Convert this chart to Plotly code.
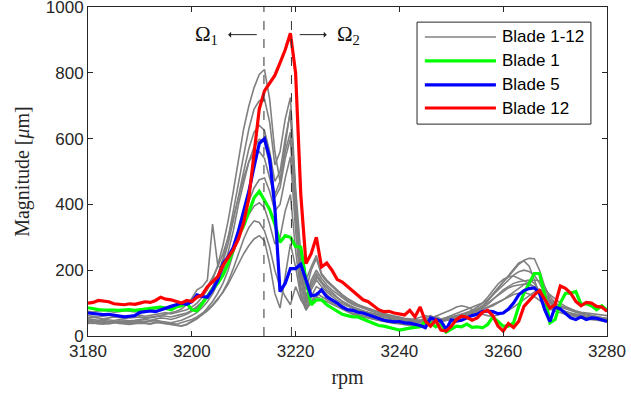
import plotly.graph_objects as go

rpm = list(range(3180, 3281))

blade12 = [100,102,108,106,104,98,96,95,98,96,
           100,104,102,108,118,112,110,105,100,108,
           105,118,125,150,165,180,215,237,262,295,
           345,420,560,690,745,768,792,830,870,920,
           800,430,220,250,300,210,222,200,172,164,
           150,138,122,110,104,92,80,74,75,70,
           68,64,78,58,88,45,30,48,18,15,
           30,50,60,57,48,55,72,78,62,30,
           15,38,26,45,90,108,125,138,110,85,
           95,152,145,130,105,92,102,100,90,88,
           75]
blade5 = [70,68,66,65,66,64,62,58,60,62,
          72,74,76,74,80,86,90,95,100,96,
          104,125,120,118,140,170,220,240,270,320,
          380,440,515,585,600,540,390,135,160,205,
          205,218,170,122,125,140,119,110,100,88,
          80,78,72,70,64,58,54,48,45,43,
          44,40,39,36,32,25,55,50,45,20,
          49,45,48,55,62,66,74,76,74,68,
          70,82,100,125,138,144,146,130,80,44,
          88,82,70,55,50,58,50,55,54,48,
          44]
blade1 = [86,82,80,79,80,79,78,79,80,78,
          79,82,84,86,88,84,80,88,92,100,
          80,76,98,122,142,160,185,220,260,305,
          335,380,420,440,412,385,340,285,305,300,
          272,270,170,95,110,110,95,86,75,66,
          62,58,58,52,45,40,32,30,25,22,
          18,22,24,26,28,45,40,28,38,12,
          22,30,28,36,26,28,25,35,58,45,
          30,30,40,90,130,160,190,190,125,40,
          50,100,130,130,135,96,98,92,80,92,
          79]

gray_blades = [
    [62,60,58,61,63,60,58,57,60,62,
     64,60,63,66,68,71,67,72,75,80,
     88,100,118,140,170,215,275,350,440,540,
     630,700,755,795,810,720,560,470,580,690,
     430,210,140,200,235,185,165,150,135,122,
     110,100,94,88,82,76,72,68,64,60,
     57,54,52,50,48,52,47,42,44,46,
     50,54,56,60,64,72,88,105,125,145,
     165,185,205,222,228,212,172,125,92,80,
     86,78,72,66,62,58,56,53,50,48,
     46],
    [48,46,44,47,45,43,46,44,42,45,
     47,50,48,52,55,53,50,55,60,66,
     75,86,100,120,148,185,235,300,380,470,
     550,630,690,715,720,650,520,560,660,725,
     450,250,170,210,245,190,170,155,140,126,
     114,104,96,90,84,78,72,66,62,58,
     55,52,48,46,45,48,52,50,46,48,
     52,58,62,66,72,80,92,108,128,148,
     165,180,200,218,230,236,235,200,150,110,
     90,80,72,66,60,56,52,50,48,46,
     44],
    [55,57,54,52,55,58,56,53,55,57,
     58,55,57,60,62,60,58,62,66,70,
     78,90,105,125,150,180,225,280,350,430,
     500,570,620,640,625,560,470,500,600,680,
     420,200,120,170,200,175,155,140,128,116,
     105,96,90,84,78,72,68,64,60,57,
     54,50,47,45,48,56,62,54,50,52,
     55,60,64,70,78,88,100,118,138,158,
     172,180,182,176,168,160,150,140,128,110,
     96,88,82,76,72,68,64,60,58,55,
     52],
    [42,44,41,40,43,45,42,40,41,43,
     45,44,46,48,45,42,40,44,48,55,
     62,72,86,104,128,160,200,255,320,400,
     470,530,575,598,590,520,430,470,560,620,
     380,190,110,160,190,165,148,132,118,106,
     96,88,82,76,70,66,62,58,55,52,
     50,47,45,44,46,50,55,60,52,48,
     50,54,58,64,70,76,84,96,110,126,
     140,150,160,165,168,170,160,135,110,92,
     84,78,72,68,64,60,58,55,52,50,
     48],
    [75,73,76,78,75,72,74,77,75,73,
     76,78,80,82,84,86,88,92,96,100,
     108,116,128,150,178,210,250,300,360,420,
     480,530,555,560,540,480,420,450,540,600,
     360,170,100,150,180,160,140,128,116,104,
     95,88,82,76,72,68,64,60,57,54,
     52,50,48,52,56,62,58,54,50,52,
     56,60,64,68,72,76,80,86,92,100,
     110,122,134,146,156,164,170,168,150,120,
     100,92,86,80,76,72,70,68,66,64,
     62],
    [40,38,41,39,37,40,42,39,38,40,
     41,39,38,42,40,36,34,32,30,34,
     42,52,66,84,105,130,160,200,250,305,
     360,410,450,475,480,440,380,400,480,545,
     320,150,90,140,170,150,134,120,108,98,
     90,84,78,72,68,64,60,56,52,50,
     48,46,44,42,44,48,54,60,66,72,
     80,88,92,88,80,72,66,62,60,64,
     70,78,88,100,112,124,134,140,138,126,
     112,100,90,82,76,70,66,62,58,56,
     54],
    [52,50,48,51,49,47,50,48,46,48,
     50,52,55,58,62,66,70,75,82,95,
     115,140,150,170,340,215,200,225,260,300,
     340,370,395,405,390,340,280,300,380,430,
     260,130,80,120,150,140,125,112,100,90,
     82,76,70,66,62,58,55,52,50,48,
     46,44,42,40,42,44,46,48,50,54,
     58,62,66,70,76,82,90,100,112,124,
     136,146,152,156,158,156,150,140,120,100,
     88,80,74,70,66,62,60,58,56,54,
     52],
    [45,43,46,44,42,45,43,41,44,46,
     44,42,45,47,44,40,38,36,40,45,
     50,58,68,80,95,112,132,158,188,220,
     250,275,295,305,290,220,130,85,180,280,
     210,120,78,105,130,120,110,100,92,84,
     76,70,65,60,56,52,48,45,42,40,
     38,36,35,34,36,38,42,46,50,56,
     62,68,74,80,86,92,100,110,125,140,
     155,170,185,195,200,196,185,160,130,105,
     90,80,74,68,64,60,57,54,52,50,
     48],
    [38,40,37,36,39,41,38,36,35,37,
     39,38,36,40,42,38,35,33,31,36,
     44,54,64,76,92,110,135,165,205,250,
     295,330,350,345,320,270,200,150,120,95,
     150,110,85,100,120,112,104,96,88,80,
     72,66,62,58,54,50,47,44,41,38,
     36,34,32,30,32,35,38,40,42,45,
     48,52,56,60,66,72,80,88,96,104,
     112,120,126,130,132,128,120,108,94,82,
     76,70,66,62,60,58,56,54,52,50,
     48],
]

omega1 = 3213.9
omega2 = 3219.2

x_ticks = [3180, 3200, 3220, 3240, 3260, 3280]
y_ticks = [0, 200, 400, 600, 800, 1000]

legend_names = ["Blade 1-12", "Blade 1", "Blade 5", "Blade 12"]
GRAY = "#808080"
legend_colors = [GRAY, "#00FF00", "#0000FF", "#FF0000"]
legend_widths = [1.6, 3.2, 3.2, 3.2]

fig = go.Figure()

all_gray = gray_blades + [blade1, blade5, blade12]
for i, s in enumerate(all_gray):
    fig.add_trace(go.Scatter(x=rpm, y=s, mode="lines",
                             line=dict(color=GRAY, width=1.6),
                             name="Blade 1-12", showlegend=False))

for name, s, c in zip(legend_names[1:], [blade1, blade5, blade12], legend_colors[1:]):
    fig.add_trace(go.Scatter(x=rpm, y=s, mode="lines", name=name,
                             line=dict(color=c, width=3.2), showlegend=False))

for om in (omega1, omega2):
    fig.add_shape(type="line", x0=om, x1=om, y0=0, y1=1, xref="x", yref="paper",
                  line=dict(color="#333333", width=1, dash="dash"))

serif = "Liberation Serif"
# Omega annotations with arrows
fig.add_annotation(x=3207.0, y=916, ax=3212.8, ay=916, xref="x", yref="y",
                   axref="x", ayref="y", text="", showarrow=True,
                   arrowhead=1, arrowsize=1, arrowwidth=1, arrowcolor="#222222")
fig.add_annotation(x=3226.0, y=916, ax=3220.5, ay=916, xref="x", yref="y",
                   axref="x", ayref="y", text="", showarrow=True,
                   arrowhead=1, arrowsize=1, arrowwidth=1, arrowcolor="#222222")
fig.add_annotation(x=3202.9, y=916, text="Ω<sub>1</sub>", showarrow=False,
                   font=dict(family=serif, size=21, color="#111111"))
fig.add_annotation(x=3230.2, y=916, text="Ω<sub>2</sub>", showarrow=False,
                   font=dict(family=serif, size=21, color="#111111"))

# custom legend (paper coordinates)
fig.add_shape(type="rect", xref="paper", yref="paper", x0=0.634, x1=0.969,
              y0=0.644, y1=0.954, line=dict(color="#262626", width=1),
              fillcolor="white", layer="above")
row_y = [0.909, 0.836, 0.763, 0.693]
for name, c, w, yy in zip(legend_names, legend_colors, legend_widths, row_y):
    fig.add_shape(type="line", xref="paper", yref="paper", x0=0.649, x1=0.786,
                  y0=yy, y1=yy, line=dict(color=c, width=w), layer="above")
    fig.add_annotation(xref="paper", yref="paper", x=0.793, y=yy, text=name,
                       showarrow=False, xanchor="left", yanchor="middle",
                       font=dict(family="Liberation Sans", size=17, color="black"))

axis_common = dict(showgrid=False, zeroline=False, showline=True, linecolor="#262626",
                   linewidth=1, mirror="ticks", ticks="inside", ticklen=5,
                   tickcolor="#262626", automargin=False, ticklabeloverflow="allow",
                   tickfont=dict(family="Liberation Sans", size=17, color="#262626"))

fig.update_layout(
    width=631, height=395,
    margin=dict(l=88, r=24, t=7, b=59),
    paper_bgcolor="white", plot_bgcolor="white",
    xaxis=dict(range=[3180, 3280], tickvals=x_ticks,
               title=dict(text="rpm", font=dict(family=serif, size=20, color="#262626"),
                          standoff=9),
               **axis_common),
    yaxis=dict(range=[0, 1000], tickvals=y_ticks,
               title=dict(text="Magnitude [<i>μ</i>m]",
                          font=dict(family=serif, size=20, color="#262626"),
                          standoff=10),
               **axis_common),
    showlegend=False,
)

fig.write_html("out.html", config={"displayModeBar": False},
               post_script="document.body.style.margin='0';document.body.style.overflow='hidden';")
